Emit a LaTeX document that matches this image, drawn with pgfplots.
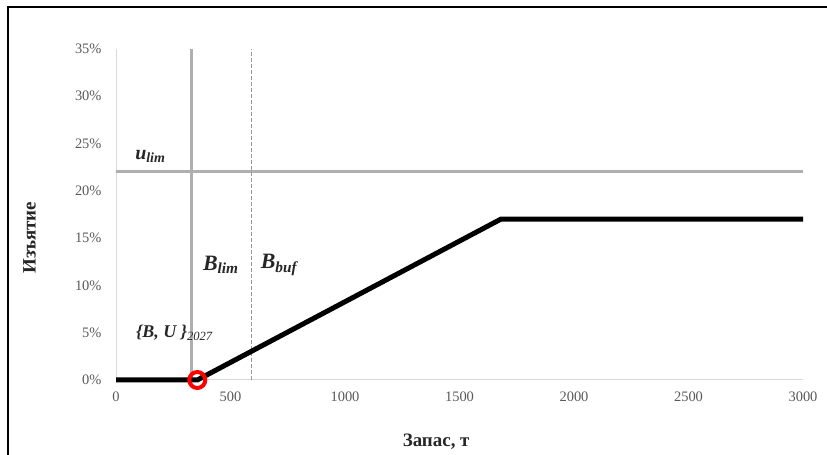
\documentclass[border=0pt]{standalone}
\usepackage{fontspec}
\setmainfont{Liberation Serif}
\usepackage{pgfplots}
\pgfplotsset{compat=1.18}
\definecolor{tickgray}{RGB}{89,89,89}
\definecolor{axgray}{RGB}{217,217,217}
\definecolor{limgray}{RGB}{175,175,175}
\begin{document}
\begin{tikzpicture}[x=1bp,y=1bp]
\useasboundingbox (0,0) rectangle (827,455);
\draw[line width=1.5bp] (8,0) -- (8,448) -- (827,448);
\begin{axis}[
  at={(116bp,75bp)}, anchor=south west,
  scale only axis, width=687bp, height=331bp,
  xmin=0, xmax=3000, ymin=0, ymax=0.35,
  axis x line=bottom, axis y line=left,
  axis line style={axgray, line width=1bp, -},
  xtick={0,500,...,3000}, ytick={0,0.05,...,0.35},
  yticklabels={0\%,5\%,10\%,15\%,20\%,25\%,30\%,35\%},
  xticklabel style={/pgf/number format/1000 sep={}},
  /pgf/number format/assume math mode=true,
  major tick length=0pt,
  tick label style={font=\fontsize{14.5}{16}\selectfont, text=tickgray},
  yticklabel style={xshift=-11bp},
  xticklabel style={yshift=-8bp},
  xlabel={Запас, т}, ylabel={Изъятие},
  label style={font=\fontsize{19}{21}\selectfont\bfseries, text=black!85},
  xlabel style={at={(axis description cs:0.466,-0.186)}, anchor=center},
  ylabel style={at={(axis description cs:-0.126,0.43)}, anchor=center},
  clip=false,
]
% u_lim
\addplot[limgray, line width=3bp] coordinates {(0,0.22) (3000,0.22)};
% B_lim
\addplot[limgray, line width=3bp] coordinates {(330,0) (330,0.35)};
% B_buf
\addplot[gray!80, line width=1bp, dash pattern=on 4bp off 2bp] coordinates {(590,0) (590,0.35)};
% HCR
\addplot[black, line width=5bp] coordinates {(0,0) (355,0) (1680,0.17) (3000,0.17)};
% current state
\addplot[only marks, mark=o, mark size=8bp, red, line width=4bp, mark options={fill=white}] coordinates {(355,0)};
\node[font=\fontsize{20}{22}\selectfont\bfseries\itshape, text=black!85] at (axis cs:150,0.236) {u\textsubscript{lim}};
\node[font=\fontsize{22}{24}\selectfont\bfseries\itshape, text=black!85] at (axis cs:458,0.122) {B\textsubscript{lim}};
\node[font=\fontsize{22}{24}\selectfont\bfseries\itshape, text=black!85] at (axis cs:712,0.122) {B\textsubscript{buf}};
\node[font=\fontsize{18}{20}\selectfont\bfseries\itshape, text=black!85] at (axis cs:255,0.050) {\{B, U \}\textsubscript{\mdseries 2027}};
\end{axis}
\end{tikzpicture}
\end{document}
